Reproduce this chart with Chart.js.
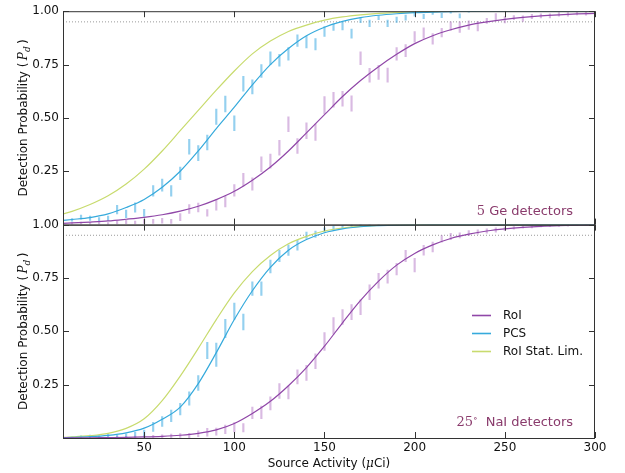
<!DOCTYPE html>
<html>
<head>
<meta charset="utf-8">
<script src="https://cdn.jsdelivr.net/npm/chart.js@4.4.1/dist/chart.umd.min.js"></script>
<style>
  html, body { margin: 0; padding: 0; background: #fff; }
</style>
</head>
<body>
<canvas id="chart" width="625" height="473"></canvas>
<script>
// fitted detection curves, sampled along source activity (uCi)
const curveX = [5, 10, 20, 30, 40, 50, 60, 70, 80, 90, 100, 110, 120, 130, 140, 150, 160, 170, 180, 190, 200,
  210, 220, 230, 240, 250, 260, 270, 280, 290, 300];

// top panel: 5 Ge detectors
const geRoi = [0.006, 0.008, 0.012, 0.017, 0.025, 0.034, 0.046, 0.063, 0.086, 0.117, 0.156, 0.208, 0.27, 0.345, 0.43,
  0.515, 0.60, 0.675, 0.74, 0.798, 0.848, 0.885, 0.913, 0.935, 0.95, 0.962, 0.971, 0.978, 0.983, 0.987, 0.99];
const gePcs = [0.02, 0.024, 0.033, 0.05, 0.08, 0.118, 0.175, 0.25, 0.345, 0.45, 0.55, 0.655, 0.75, 0.825, 0.885,
  0.925, 0.952, 0.97, 0.981, 0.988, 0.993, 0.996, 0.998, 0.999, 1, 1, 1, 1, 1, 1, 1];
const geStat = [0.05, 0.062, 0.094, 0.135, 0.19, 0.26, 0.345, 0.44, 0.535, 0.63, 0.72, 0.80, 0.86, 0.905, 0.935,
  0.958, 0.973, 0.983, 0.99, 0.994, 0.997, 0.998, 0.999, 1, 1, 1, 1, 1, 1, 1, 1];

// bottom panel: 25 deg NaI detectors
const naiRoi = [0, 0.0005, 0.001, 0.002, 0.003, 0.005, 0.008, 0.013, 0.022, 0.038, 0.068, 0.115, 0.172, 0.245, 0.33,
  0.43, 0.54, 0.645, 0.735, 0.81, 0.865, 0.905, 0.935, 0.955, 0.97, 0.98, 0.987, 0.992, 0.995, 0.997, 0.998];
const naiPcs = [0.002, 0.003, 0.006, 0.012, 0.024, 0.046, 0.088, 0.145, 0.255, 0.40, 0.555, 0.69, 0.80, 0.88, 0.93,
  0.962, 0.98, 0.99, 0.995, 0.998, 0.999, 1, 1, 1, 1, 1, 1, 1, 1, 1, 1];
const naiStat = [0.003, 0.005, 0.011, 0.022, 0.045, 0.09, 0.175, 0.29, 0.42, 0.555, 0.68, 0.78, 0.855, 0.91, 0.945,
  0.97, 0.984, 0.992, 0.996, 0.998, 1, 1, 1, 1, 1, 1, 1, 1, 1, 1, 1];

// simulated points (centre and half error bar)
const geRoiBarX = [10, 15, 20, 25, 30, 35, 40, 45, 50, 55, 60, 65, 70, 75, 80, 85, 90, 95, 100, 105,
  110, 115, 120, 125, 130, 135, 140, 145, 150, 155, 160, 165, 170, 175, 180, 185, 190, 195, 200, 205,
  210, 215, 220, 225, 230, 235, 240, 245, 250, 255, 260, 265, 270, 275, 280, 285, 290, 295, 300];
const geRoiBarC = [0.005, 0.007, 0.006, 0.008, 0.005, 0.01, 0.012, 0.01, 0.015, 0.015,
  0.018, 0.015, 0.035, 0.073, 0.08, 0.055, 0.093, 0.108, 0.16, 0.21,
  0.19, 0.283, 0.297, 0.36, 0.47, 0.368, 0.44, 0.433, 0.56, 0.585,
  0.59, 0.567, 0.78, 0.70, 0.713, 0.70, 0.80, 0.815, 0.88, 0.897,
  0.87, 0.90, 0.93, 0.925, 0.935, 0.93, 0.955, 0.974, 0.96, 0.97,
  0.965, 0.975, 0.978, 0.978, 0.985, 0.985, 0.99, 0.988, 0.99];
const geRoiBarE = [0.004, 0.005, 0.005, 0.006, 0.005, 0.007, 0.008, 0.007, 0.01, 0.01,
  0.011, 0.01, 0.017, 0.021, 0.021, 0.015, 0.025, 0.025, 0.027, 0.03,
  0.029, 0.035, 0.033, 0.035, 0.035, 0.035, 0.037, 0.038, 0.04, 0.035,
  0.035, 0.036, 0.03, 0.032, 0.033, 0.033, 0.03, 0.028, 0.025, 0.025,
  0.025, 0.02, 0.02, 0.025, 0.02, 0.022, 0.012, 0.015, 0.015, 0.01,
  0.013, 0.01, 0.01, 0.01, 0.008, 0.008, 0.007, 0.007, 0.006];

const gePcsBarX = [10, 15, 20, 25, 30, 35, 40, 45, 50, 55, 60, 65, 70, 75, 80, 85, 90, 95, 100, 105,
  110, 115, 120, 125, 130, 135, 140, 145, 150, 155, 160, 165, 170, 175, 180, 185, 190, 195, 200, 205,
  210, 215, 220, 225, 230];
const gePcsBarC = [0.022, 0.035, 0.03, 0.025, 0.03, 0.07, 0.05, 0.08, 0.055, 0.158,
  0.185, 0.158, 0.24, 0.365, 0.335, 0.385, 0.505, 0.565, 0.475, 0.66,
  0.645, 0.72, 0.78, 0.77, 0.80, 0.862, 0.855, 0.845, 0.905, 0.925,
  0.93, 0.895, 0.958, 0.943, 0.97, 0.943, 0.96, 0.97, 0.985, 0.975,
  0.99, 0.98, 0.995, 0.978, 0.998];
const gePcsBarE = [0.006, 0.01, 0.01, 0.008, 0.01, 0.02, 0.018, 0.022, 0.017, 0.025,
  0.028, 0.025, 0.03, 0.035, 0.035, 0.035, 0.036, 0.037, 0.035, 0.035,
  0.033, 0.03, 0.03, 0.028, 0.03, 0.027, 0.027, 0.027, 0.023, 0.015,
  0.018, 0.021, 0.012, 0.015, 0.01, 0.015, 0.012, 0.012, 0.008, 0.01,
  0.005, 0.01, 0.004, 0.01, 0.002];

const naiPcsBarX = [10, 15, 20, 25, 30, 35, 40, 45, 50, 55, 60, 65, 70, 75, 80, 85, 90, 95, 100, 105,
  110, 115, 120, 125, 130, 135, 140, 145, 150, 155, 160, 165, 170, 175, 180];
const naiPcsBarC = [0.001, 0.005, 0.008, 0.005, 0.01, 0.008, 0.012, 0.015, 0.02, 0.052,
  0.077, 0.104, 0.135, 0.185, 0.258, 0.41, 0.39, 0.513, 0.594, 0.544,
  0.70, 0.70, 0.804, 0.853, 0.88, 0.903, 0.95, 0.955, 0.975, 0.985,
  0.99, 0.995, 0.998, 0.999, 0.999];
const naiPcsBarE = [0.002, 0.005, 0.006, 0.005, 0.007, 0.006, 0.008, 0.012, 0.017, 0.021,
  0.023, 0.027, 0.027, 0.031, 0.035, 0.038, 0.055, 0.043, 0.038, 0.037,
  0.032, 0.032, 0.03, 0.027, 0.025, 0.023, 0.015, 0.015, 0.01, 0.008,
  0.005, 0.004, 0.002, 0.001, 0.001];

const naiRoiBarX = geRoiBarX;
const naiRoiBarC = [0, 0.001, 0.001, 0.002, 0.002, 0.003, 0.004, 0.004, 0.005, 0.006,
  0.008, 0.01, 0.012, 0.012, 0.02, 0.027, 0.03, 0.04, 0.05, 0.048,
  0.118, 0.12, 0.162, 0.22, 0.213, 0.287, 0.305, 0.36, 0.452, 0.525,
  0.567, 0.59, 0.613, 0.683, 0.737, 0.756, 0.791, 0.853, 0.81, 0.88,
  0.895, 0.933, 0.944, 0.95, 0.96, 0.965, 0.97, 0.975, 0.98, 0.985,
  0.988, 0.99, 0.993, 0.994, 0.995, 0.996, 0.997, 0.998, 0.998];
const naiRoiBarE = [0.002, 0.002, 0.002, 0.003, 0.003, 0.004, 0.004, 0.005, 0.005, 0.006,
  0.007, 0.008, 0.009, 0.01, 0.014, 0.018, 0.017, 0.02, 0.022, 0.02,
  0.027, 0.03, 0.031, 0.035, 0.03, 0.033, 0.035, 0.035, 0.042, 0.039,
  0.035, 0.035, 0.035, 0.035, 0.035, 0.031, 0.027, 0.027, 0.032, 0.023,
  0.023, 0.015, 0.015, 0.012, 0.012, 0.01, 0.01, 0.01, 0.008, 0.006,
  0.005, 0.005, 0.004, 0.004, 0.003, 0.003, 0.002, 0.002, 0.002];

const thresholdX = [5, 300];
const thresholdY = [0.95, 0.95];

const xTicks = [50, 100, 150, 200, 250, 300];
const legendLabels = ['RoI', 'PCS', 'RoI Stat. Lim.'];

const purple = '#9047a8';
const blue = '#36aadc';
const yellow = '#c8db6e';
const purpleBar = 'rgba(165, 90, 185, 0.42)';
const blueBar = 'rgba(60, 170, 225, 0.55)';
const annoColor = '#8a3b6c';
const sans = '"DejaVu Sans", sans-serif';
const serif = '"DejaVu Serif", serif';

function pts(xs, ys) {
  return xs.map((x, i) => ({ x: x, y: ys[i] }));
}
function bars(xs, c, e) {
  return xs.map((x, i) => ({ x: x, y: [c[i] - e[i], c[i] + e[i]] }));
}
function curve(label, ys, color, axis) {
  return {
    type: 'line', label: label, data: pts(curveX, ys), yAxisID: axis,
    borderColor: color, borderWidth: 1.2, pointRadius: 0, fill: false,
    cubicInterpolationMode: 'monotone', order: 1
  };
}
function errbars(xs, c, e, color, axis) {
  return {
    type: 'bar', data: bars(xs, c, e), yAxisID: axis, backgroundColor: color,
    barThickness: 1.5, grouped: false, borderWidth: 0, order: 2
  };
}
function threshold(axis) {
  return {
    type: 'line', data: pts(thresholdX, thresholdY), yAxisID: axis,
    borderColor: '#9a9a9a', borderWidth: 1, borderDash: [1, 2], pointRadius: 0, order: 3
  };
}

function partsWidth(ctx, parts) {
  let w = 0;
  parts.forEach(p => { ctx.font = p[1]; w += ctx.measureText(p[0]).width; });
  return w;
}
function drawParts(ctx, parts, x, y) {
  parts.forEach(p => {
    ctx.font = p[1];
    ctx.fillText(p[0], x, y + (p[2] || 0));
    x += ctx.measureText(p[0]).width;
  });
}

const decor = {
  id: 'decor',
  afterDraw(chart) {
    const ctx = chart.ctx, ca = chart.chartArea, xs = chart.scales.x;
    const panels = [chart.scales.yTop, chart.scales.yBot];
    ctx.save();
    ctx.strokeStyle = '#333';
    ctx.lineWidth = 1;
    panels.forEach(ys => {
      ctx.strokeRect(ca.left + 0.5, ys.top + 0.5, ca.right - ca.left - 1, ys.bottom - ys.top);
      ctx.beginPath();
      xTicks.forEach(v => {
        const px = Math.round(xs.getPixelForValue(v)) + 0.5;
        ctx.moveTo(px, ys.top); ctx.lineTo(px, ys.top + 6);
        ctx.moveTo(px, ys.bottom); ctx.lineTo(px, ys.bottom - 6);
      });
      ys.ticks.forEach(t => {
        const py = Math.round(ys.getPixelForValue(t.value)) + 0.5;
        ctx.moveTo(ca.left, py); ctx.lineTo(ca.left + 6, py);
        ctx.moveTo(ca.right, py); ctx.lineTo(ca.right - 6, py);
      });
      ctx.stroke();

      // y axis title, rotated
      const title = [['Detection Probability (\u2009', '12px ' + sans], ['P', 'italic 12px ' + serif],
        ['d', 'italic 9px ' + serif, 3], ['\u2009)', '12px ' + sans]];
      const w = partsWidth(ctx, title);
      ctx.save();
      ctx.translate(27, (ys.top + ys.bottom) / 2);
      ctx.rotate(-Math.PI / 2);
      ctx.fillStyle = '#111';
      ctx.textBaseline = 'alphabetic';
      drawParts(ctx, title, -w / 2, 0);
      ctx.restore();
    });

    // x axis title
    const xt = [['Source Activity (', '12px ' + sans], ['\u03bc', 'italic 12px ' + serif], ['Ci)', '12px ' + sans]];
    ctx.fillStyle = '#111';
    ctx.textBaseline = 'alphabetic';
    drawParts(ctx, xt, (ca.left + ca.right) / 2 - partsWidth(ctx, xt) / 2, 467);

    // panel annotations
    ctx.fillStyle = annoColor;
    const a1 = [['5', '13px ' + serif], [' Ge detectors', '13px ' + sans]];
    drawParts(ctx, a1, ca.right - 22 - partsWidth(ctx, a1), chart.scales.yTop.bottom - 10);
    const a2 = [['25', '13px ' + serif], ['\u2218', '9px ' + serif, -5], ['  NaI detectors', '13px ' + sans]];
    drawParts(ctx, a2, ca.right - 22 - partsWidth(ctx, a2), chart.scales.yBot.bottom - 12);

    // legend for the lower panel
    const yb = chart.scales.yBot;
    const cols = [purple, blue, yellow];
    legendLabels.forEach((lab, i) => {
      const ly = Math.round(yb.top + 90 + i * 18) + 0.5;
      ctx.strokeStyle = cols[i];
      ctx.lineWidth = 1.6;
      ctx.beginPath();
      ctx.moveTo(ca.right - 123, ly); ctx.lineTo(ca.right - 104, ly);
      ctx.stroke();
      ctx.fillStyle = '#111';
      ctx.font = '12px ' + sans;
      ctx.textBaseline = 'middle';
      ctx.fillText(lab, ca.right - 92, ly);
    });
    ctx.restore();
  }
};

function yAxis() {
  return {
    type: 'linear', position: 'left', stack: 'panels', stackWeight: 1,
    min: 0, max: 1, offset: false,
    grid: { display: false, drawTicks: false },
    border: { display: false },
    ticks: {
      stepSize: 0.25, padding: 4, color: '#111', font: { family: sans, size: 12 },
      callback: v => (v === 0 ? '' : v.toFixed(2))
    },
    afterFit: s => { s.width = 63; }
  };
}

new Chart(document.getElementById('chart'), {
  type: 'line',
  data: {
    datasets: [
      errbars(geRoiBarX, geRoiBarC, geRoiBarE, purpleBar, 'yTop'),
      errbars(gePcsBarX, gePcsBarC, gePcsBarE, blueBar, 'yTop'),
      curve('RoI', geRoi, purple, 'yTop'),
      curve('PCS', gePcs, blue, 'yTop'),
      curve('RoI Stat. Lim.', geStat, yellow, 'yTop'),
      threshold('yTop'),
      errbars(naiRoiBarX, naiRoiBarC, naiRoiBarE, purpleBar, 'yBot'),
      errbars(naiPcsBarX, naiPcsBarC, naiPcsBarE, blueBar, 'yBot'),
      curve('RoI', naiRoi, purple, 'yBot'),
      curve('PCS', naiPcs, blue, 'yBot'),
      curve('RoI Stat. Lim.', naiStat, yellow, 'yBot'),
      threshold('yBot')
    ]
  },
  options: {
    responsive: false,
    animation: false,
    events: [],
    layout: { padding: { left: 0, right: 30, top: 6, bottom: 0 } },
    plugins: { legend: { display: false }, tooltip: { enabled: false } },
    scales: {
      x: {
        type: 'linear', min: 5, max: 300, offset: false,
        grid: { display: false, drawTicks: false, offset: false },
        border: { display: false },
        ticks: { stepSize: 50, includeBounds: false, padding: 3, color: '#111', font: { family: sans, size: 12 } },
        afterFit: s => { s.height = 35; }
      },
      // stacked left axes are laid out last-defined on top
      yBot: yAxis(),
      yTop: yAxis()
    }
  },
  plugins: [decor]
});
</script>
</body>
</html>
